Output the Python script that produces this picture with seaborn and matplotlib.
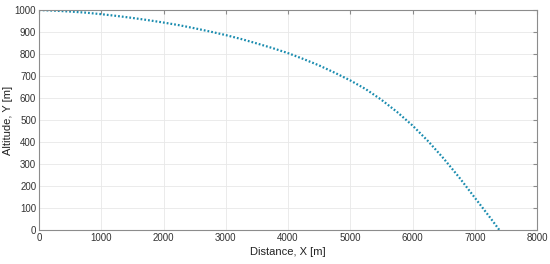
import matplotlib
matplotlib.use("Agg")

import matplotlib.pyplot as plt
import numpy as np
import pandas as pd
import seaborn as sns

# trajectory
distance = [0, 250, 500, 750, 1000, 1250, 1500, 1750, 2000, 2250, 2500,
            2750, 3000, 3250, 3500, 3750, 4000, 4250, 4500, 4750, 5000,
            5250, 5500, 5750, 6000, 6250, 6500, 6750, 7000, 7250, 7395]
altitude = [1000, 997, 993, 988, 981, 973, 964, 954, 943, 931, 917,
            902, 886, 868, 848, 827, 804, 777, 748, 715, 680,
            640, 592, 537, 475, 404, 325, 239, 147, 55, 0]

x_ticks = [0, 1000, 2000, 3000, 4000, 5000, 6000, 7000, 8000]
y_ticks = [0, 100, 200, 300, 400, 500, 600, 700, 800, 900, 1000]

LINE = "#1a8caf"
SPINE = "#8c8c8c"

sns.set_theme(style="whitegrid", rc={
    "grid.color": "#e8e8e8",
    "grid.linewidth": 0.6,
    "axes.edgecolor": SPINE,
    "axes.linewidth": 0.8,
    "xtick.color": SPINE,
    "ytick.color": SPINE,
    "xtick.labelcolor": "#333333",
    "ytick.labelcolor": "#333333",
})
plt.rcParams["font.family"] = ["Liberation Sans", "DejaVu Sans"]

df = pd.DataFrame({"x": distance, "y": altitude})

fig = plt.figure(figsize=(5.5, 2.64), dpi=100)
ax = fig.add_axes([0.0709, 0.1288, 0.9055, 0.8333])

sns.lineplot(data=df, x="x", y="y", ax=ax, color=LINE, linewidth=1.6,
             linestyle=(0, (0.8, 0.9)), sort=False)

ax.set_xlim(0, 8000)
ax.set_ylim(0, 1000)
ax.set_xticks(x_ticks)
ax.set_yticks(y_ticks)
ax.tick_params(axis="both", direction="in", length=3, width=0.8,
               labelsize=7, pad=2, top=True, right=True)
for s in ax.spines.values():
    s.set_visible(True)
    s.set_color(SPINE)

ax.set_xlabel("Distance, X [m]", fontsize=8, color="#222222", labelpad=3)
ax.set_ylabel("Altitude, Y [m]", fontsize=8, color="#222222")
ax.yaxis.set_label_coords(-0.052, 0.5)

fig.savefig("out.png", dpi=100, facecolor="white")
